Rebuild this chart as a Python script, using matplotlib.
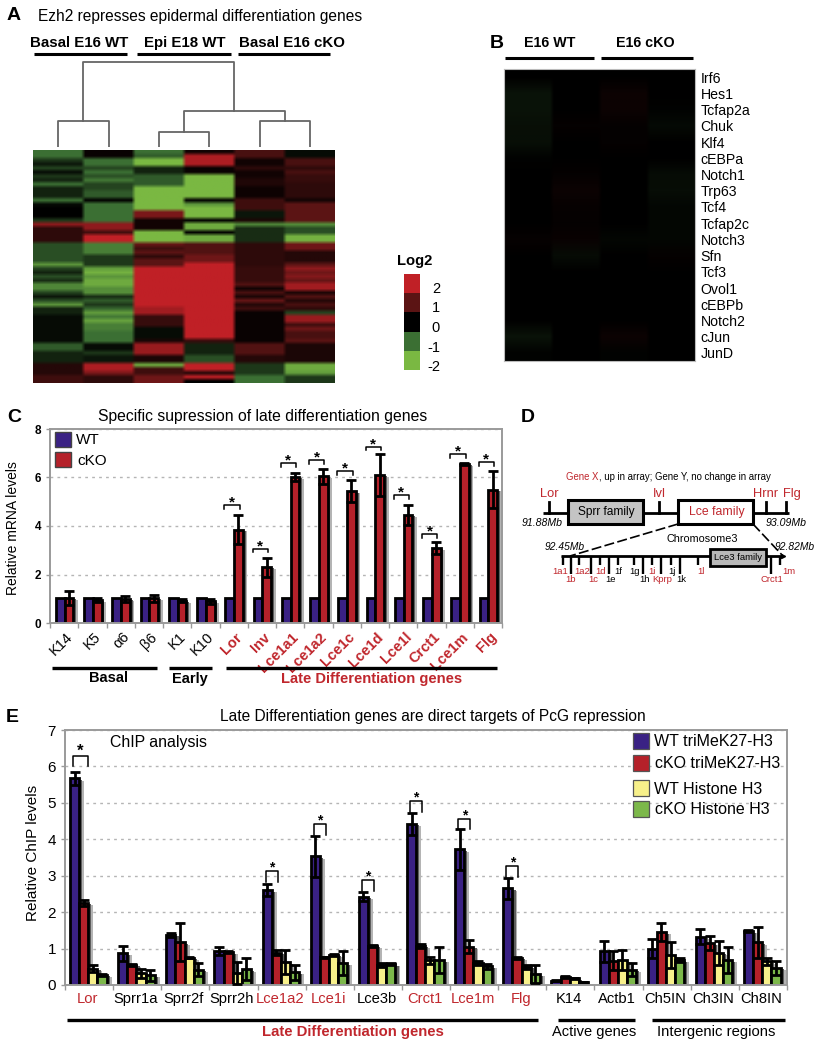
import matplotlib
matplotlib.use("Agg")
import matplotlib.pyplot as plt
import numpy as np
from matplotlib.colors import LinearSegmentedColormap
from matplotlib.patches import Rectangle

plt.rcParams['font.family'] = ['Liberation Sans', 'DejaVu Sans']

W, H = 816, 1050
NAVY, RED, YELLOW, GREEN = "#3a2184", "#b5212a", "#f7f08a", "#7cb84a"
TXTRED = "#c0272d"

# panel A, log2 values per column, (value, number of rows)
a_col1 = [(-1, 2), (-.5, 1), (-.2, 1), (-.6, 1), (-.1, 1), (-.5, 1), (-.3, 1), (-1, 1), (-.3, 3), (-1, 1), (-.1, 1),
          (0, 3), (-.5, 1), (1.5, 1), (.5, 4), (-.7, 5), (-1.5, 1), (-.6, 1), (-.3, 1), (-.7, 1), (-.4, 1), (-1.3, 2),
          (-.6, 1), (-.2, 1), (-.7, 1), (-1.5, 1), (-.3, 2), (-.1, 7), (-.8, 2), (-.3, 3), (.4, 3), (.7, 2)]
a_col2 = [(.1, 2), (-1, 2), (-.6, 1), (-1, 1), (-.7, 1), (-1.1, 1), (-.6, 2), (-.8, 2), (0, 1), (-1, 5), (1.5, 2),
          (.7, 1), (2, 2), (-1.2, 3), (-.5, 3), (-1.6, 1), (-1.9, 1), (-1.5, 1), (-1.8, 2), (-1.4, 2), (-.4, 1),
          (-.8, 1), (-.5, 1), (-.9, 1), (-1.6, 1), (-1.1, 1), (-1.7, 1), (-1.2, 2), (-1, 3), (-.1, 2), (-.5, 1),
          (-.2, 2), (1.8, 2), (1.3, 1), (.5, 2)]
a_col3 = [(-1, 1), (-.8, 1), (-2, 2), (-.3, 2), (-.8, 3), (-2, 6), (1.3, 2), (.2, 3), (-2, 3), (1.1, 1), (.7, 1),
          (1, 1), (.5, 1), (1, 2), (2, 10), (1.7, 2), (.6, 3), (-.1, 3), (.3, 1), (1.6, 3), (.3, 2), (-1.8, 1), (.7, 2),
          (1.2, 2)]
a_col4 = [(.2, 1), (1.8, 3), (.1, 2), (-2, 6), (0, 1), (-1.5, 1), (-2, 3), (0, 1), (-1.8, 2), (0, 1), (-1.8, 2),
          (.9, 3), (1.2, 2), (2, 19), (.6, 1), (-.3, 3), (-.7, 2), (2, 2), (.4, 1), (2, 1), (0, 1)]
a_col5 = [(.8, 2), (.2, 2), (.5, 1), (.2, 2), (.35, 2), (.15, 3), (.7, 3), (-.2, 2), (.3, 1), (-1.3, 1), (-.4, 4),
          (.5, 6), (.6, 4), (.9, 1), (.2, 1), (.8, 1), (.3, 1), (1.1, 1), (.4, 1), (.7, 1), (.1, 8), (.9, 3), (.4, 2),
          (-.5, 3), (-1, 2)]
a_col6 = [(-.1, 2), (.8, 2), (.5, 1), (.8, 1), (.6, 2), (.5, 4), (.2, 1), (1, 5), (-1.4, 1), (-.7, 2), (-1.9, 2),
          (1.2, 2), (.4, 3), (1, 1), (1.5, 1), (1.2, 1), (1.4, 1), (1.1, 1), (1.7, 2), (.3, 1), (.9, 1), (.4, 1),
          (.8, 1), (.5, 1), (-.6, 1), (1.6, 2), (.7, 1), (1.2, 1), (.8, 2), (1, 1), (.3, 5), (-1.8, 2), (-1.6, 1),
          (-.5, 2)]
a_groups = ["Basal E16 WT", "Epi E18 WT", "Basal E16 cKO"]
# dendrogram heights
den_pairs = [26, 15, 26]
den_mid = 36
den_root = 85
log2_levels = [2, 1, 0, -1, -2]

# panel B
b_genes = ["Irf6", "Hes1", "Tcfap2a", "Chuk", "Klf4", "cEBPa", "Notch1", "Trp63", "Tcf4", "Tcfap2c", "Notch3", "Sfn",
           "Tcf3", "Ovol1", "cEBPb", "Notch2", "cJun", "JunD"]
b_col1 = [0, -.17, -.17, -.13, -.13, -.03, 0, 0, 0, 0, .07, 0, 0, 0, 0, 0, -.17, -.03]
b_col2 = [0, 0, 0, .05, 0, 0, .06, .14, .07, .06, .1, -.1, 0, 0, 0, 0, 0, 0]
b_col3 = [0, .14, .14, .06, .06, 0, 0, 0, 0, 0, -.06, 0, 0, 0, 0, 0, .14, -.02]
b_col4 = [0, 0, -.02, -.08, 0, 0, -.1, -.12, -.05, -.05, -.06, .05, 0, 0, 0, 0, 0, 0]

# panel C
c_genes = ["K14", "K5", "α6", "β6", "K1", "K10", "Lor", "Inv", "Lce1a1", "Lce1a2", "Lce1c", "Lce1d", "Lce1l", "Crct1",
           "Lce1m", "Flg"]
c_wt = [1.05] * 16
c_cko = [1.03, .95, 1.0, 1.02, .92, .9, 3.85, 2.3, 6.03, 6.05, 5.43, 6.1, 4.45, 3.1, 6.55, 5.5]
c_err = [.3, .08, .13, .15, .05, .1, .6, .4, .17, .3, .45, .85, .42, .25, .03, .75]
c_sig = [None] * 6 + [4.87, 3.06, 6.58, 6.72, 6.27, 7.27, 5.27, 3.65, 6.95, 6.63]

# panel E
e_genes = ["Lor", "Sprr1a", "Sprr2f", "Sprr2h", "Lce1a2", "Lce1i", "Lce3b", "Crct1", "Lce1m", "Flg", "K14", "Actb1",
           "Ch5IN", "Ch3IN", "Ch8IN"]
e_red = ["Lor", "Lce1a2", "Lce1i", "Crct1", "Lce1m", "Flg"]
e_wt_tri = [5.67, .87, 1.38, .93, 2.6, 3.53, 2.42, 4.42, 3.72, 2.65, .12, .92, 1.0, 1.33, 1.48]
e_wt_tri_err = [.17, .2, .05, .12, .17, .57, .12, .3, .55, .28, .02, .28, .25, .2, .03]
e_cko_tri = [2.25, .55, 1.17, .9, .88, .76, 1.07, 1.07, 1.05, .75, .22, .67, 1.45, 1.15, 1.17]
e_cko_tri_err = [.07, .03, .52, .03, .07, .02, .04, .05, .18, .03, .02, .25, .25, .2, .42]
e_wt_h3 = [.45, .32, .75, .33, .62, .83, .55, .68, .6, .5, .18, .68, .82, .88, .65]
e_wt_h3_err = [.1, .13, .02, .3, .33, .03, .05, .1, .06, .05, .02, .27, .35, .32, .1]
e_cko_h3 = [.28, .27, .42, .43, .35, .6, .57, .68, .52, .3, .08, .42, .68, .68, .47]
e_cko_h3_err = [.03, .15, .18, .3, .2, .33, .03, .35, .07, .25, .01, .18, .05, .35, .2]
e_sig = [6.3, None, None, None, 3.13, 4.43, 2.88, 5.05, 4.57, 3.27, None, None, None, None, None]
e_legend = ["WT triMeK27-H3", "cKO triMeK27-H3", "WT Histone H3", "cKO Histone H3"]

# panel D
d_genes = ["1a1", "1b", "1a2", "1c", "1d", "1e", "1f", "1g", "1h", "1i", "Kprp", "1j", "1k", "1l", "Crct1", "1m"]
d_gene_x = [563, 571, 579, 591, 600, 609, 618, 634, 643, 652, 661, 671, 680, 698, 771, 780]
d_label_x = [560, 571, 582, 593, 601, 611, 618, 635, 645, 652, 662, 672, 681, 701, 772, 789]
d_long = [0, 1, 0, 1, 0, 1, 0, 0, 1, 0, 1, 0, 1, 0, 1, 0]
d_isred = [1, 1, 1, 1, 1, 0, 0, 0, 0, 1, 1, 0, 0, 1, 1, 1]


def runs(col):
    out = []
    for v, n in col:
        out += [v] * n
    return out


fig = plt.figure(figsize=(W / 100, H / 100), dpi=100, facecolor="white")


def px_axes(l, t, r, b):
    return fig.add_axes([l / W, 1 - b / H, (r - l) / W, (b - t) / H])


over = fig.add_axes([0, 0, 1, 1], zorder=10)
over.set_xlim(0, W)
over.set_ylim(H, 0)
over.axis("off")
over.patch.set_alpha(0)


def txt(x, y, s, size=10, color="black", ha="left", weight="normal", style="normal", rot=0):
    over.text(x, y, s, fontsize=size, color=color, ha=ha, va="center", weight=weight, style=style, rotation=rot)


def hline(x0, x1, y, lw=2.0, color="black", **kw):
    over.plot([x0, x1], [y, y], color=color, lw=lw, solid_capstyle="butt", **kw)


cmap = LinearSegmentedColormap.from_list("rg", [(0, "#7ab842"), (.25, "#3c7034"), (.5, "#000000"), (.75, "#5a1414"),
                                                (1, "#c02026")])

# A
for x, y, s in [(7, 16, "A"), (490, 44, "B"), (7, 418, "C"), (521, 418, "D"), (6, 718, "E")]:
    txt(x, y, s, size=14, weight="bold")
txt(38, 16, "Ezh2 represses epidermal differentiation genes", size=11.2)
for x, s in zip([79.5, 185, 292], a_groups):
    txt(x, 43, s, size=10.8, weight="bold", ha="center")
for x0, x1 in [(34, 127), (137, 231), (238, 330)]:
    hline(x0, x1, 53.5, lw=2.2)

axa = px_axes(33, 150, 335, 383)
mat_a = np.array([runs(c) for c in [a_col1, a_col2, a_col3, a_col4, a_col5, a_col6]]).T
# repeat columns so the smoothing only softens the cell edges
axa.imshow(np.repeat(mat_a, 12, axis=1), aspect="auto", cmap=cmap, vmin=-2, vmax=2, interpolation="bilinear",
           interpolation_stage="rgba")
axa.axis("off")

axd = px_axes(33, 62, 335, 147)
axd.set_xlim(0, 6)
axd.set_ylim(0, 85)
axd.axis("off")
mids = []
for i, h in enumerate(den_pairs):
    a, b = 2 * i + .5, 2 * i + 1.5
    axd.plot([a, a, b, b], [0, h, h, 0], color="#666666", lw=1.3)
    mids.append((a + b) / 2)
m = (mids[1] + mids[2]) / 2
axd.plot([mids[1], mids[1], mids[2], mids[2]], [den_pairs[1], den_mid, den_mid, den_pairs[2]], color="#666666", lw=1.3)
axd.plot([mids[0], mids[0], m, m], [den_pairs[0], den_root, den_root, den_mid], color="#666666", lw=1.3, clip_on=False)

# log2 scale
axl = px_axes(404, 274, 420, 370)
axl.imshow(np.array(log2_levels).reshape(-1, 1), aspect="auto", cmap=cmap, vmin=-2, vmax=2, interpolation="nearest")
axl.axis("off")
txt(397, 261, "Log2", size=10.6, weight="bold")
for i, v in enumerate(log2_levels):
    txt(440, 289 + i * 19.5, str(v), size=10.5, ha="right")

# B
for x, s in zip([550, 645], ["E16 WT", "E16 cKO"]):
    txt(x, 43, s, size=10.3, weight="bold", ha="center")
hline(505, 594, 58, lw=2.2)
hline(601, 693, 58, lw=2.2)
axb = px_axes(504, 69, 695, 361)
mat_b = np.array([b_col1, b_col2, b_col3, b_col4]).T
axb.imshow(np.repeat(mat_b, 12, axis=1), aspect="auto", cmap=cmap, vmin=-2, vmax=2, interpolation="bilinear",
           interpolation_stage="rgba", extent=(-.5, 3.5, 17.5, -.5))
axb.set_xticks([])
axb.yaxis.tick_right()
axb.set_yticks(range(len(b_genes)))
axb.set_yticklabels(b_genes, fontsize=10.2)
axb.tick_params(axis="y", length=0, pad=4)
for s in axb.spines.values():
    s.set_color("#bbbbbb")
    s.set_linewidth(.8)


def style_axes(ax, n, ymax, ticks, lab_size):
    ax.set_xlim(0, n)
    ax.set_ylim(0, ymax)
    for s in ax.spines.values():
        s.set_color("#9a9a9a")
        s.set_linewidth(1.4)
    ax.set_xticks(range(n + 1))
    ax.set_xticklabels([])
    ax.tick_params(axis="x", which="major", length=3.5, color="#9a9a9a", width=1)
    ax.set_yticks(ticks)
    ax.tick_params(axis="y", length=3, color="#9a9a9a", width=1, labelsize=lab_size)
    ax.yaxis.grid(True, color="#b5b5b5", lw=1, ls=(0, (2, 3)))
    ax.set_axisbelow(True)


def bars(ax, x, h, err, w, color, shadow_dx, shadow_dy):
    x = np.array(x)
    h = np.array(h)
    ax.bar(x + shadow_dx * 1.6, np.maximum(h - shadow_dy * 1.5, 0), w, color="#b4b4b4", zorder=1.4, lw=0)
    ax.bar(x + shadow_dx, np.maximum(h - shadow_dy, 0), w, color="#5e5e5e", zorder=1.5, lw=0)
    ax.bar(x, h, w, color=color, edgecolor="black", linewidth=2.0, zorder=2)
    if err is not None:
        ax.errorbar(x, h, yerr=err, fmt="none", ecolor="black", elinewidth=2.0, capsize=3.6, capthick=2.0, zorder=3)


# C
axc = px_axes(50, 429, 502, 623)
style_axes(axc, 16, 8, [0, 2, 4, 6, 8], 8.5)
for t in axc.get_yticklabels():
    t.set_fontweight("bold")
xc = np.arange(16)
bars(axc, xc + .36, c_wt, None, .31, NAVY, .1, .05)
bars(axc, xc + .67, c_cko, c_err, .31, RED, .1, .05)
axc.set_xticks(xc + .55, minor=True)
axc.set_xticklabels(c_genes, minor=True, rotation=45, ha="right", rotation_mode="anchor")
axc.tick_params(axis="x", which="minor", length=0, pad=5)
for i, t in enumerate(axc.get_xticklabels(minor=True)):
    t.set_fontsize(10.5)
    if i >= 6:
        t.set_color(TXTRED)
        t.set_fontweight("bold")
for i, y in enumerate(c_sig):
    if y is None:
        continue
    axc.plot([i + .17, i + .17, i + .71, i + .71], [y - .15, y, y, y - .15], color="black", lw=1.1, zorder=4)
    axc.text(i + .44, y - .18, "*", ha="center", va="bottom", fontsize=11, fontweight="bold", zorder=4)
txt(13, 528, "Relative mRNA levels", size=10, ha="center", rot=90)
txt(263, 417, "Specific supression of late differentiation genes", size=11.3, ha="center")
over.add_patch(Rectangle((55, 432), 16, 15, fc=NAVY, ec="#444444", lw=1))
over.add_patch(Rectangle((55, 452), 16, 15, fc=RED, ec="#444444", lw=1))
txt(76, 440, "WT", size=11)
txt(77, 461, "cKO", size=11)
hline(52, 157, 668, lw=2.4)
hline(169, 212, 668, lw=2.4)
hline(226, 497, 668, lw=2.4)
txt(109, 678.5, "Basal", size=10.5, weight="bold", ha="center")
txt(190, 678.5, "Early", size=10.5, weight="bold", ha="center")
txt(372, 678.5, "Late Differentiation genes", size=10.6, weight="bold", ha="center", color=TXTRED)

# D
txt(566, 477, "Gene X", size=6.9, color=TXTRED)
txt(599, 477, ", up in array; Gene Y, no change in array", size=6.9)
hline(543, 789, 513, lw=2)
for x, y0, s, lx in [(549, 502, "Lor", 549), (659, 502, "Ivl", 659), (766, 502, "Hrnr", 766), (786, 502, "Flg", 792)]:
    over.plot([x, x], [y0, 513], color="black", lw=2)
    txt(lx, 494, s, size=9.3, color=TXTRED, ha="center")
over.add_patch(Rectangle((568, 500), 75, 24, fc="#c4c4c4", ec="black", lw=2.2, zorder=3))
over.add_patch(Rectangle((678, 500), 75, 24, fc="white", ec="black", lw=2.2, zorder=3))
over.text(606, 512, "Sprr family", fontsize=8.6, ha="center", va="center", zorder=4)
over.text(717, 512, "Lce family", fontsize=8.8, color=TXTRED, ha="center", va="center", zorder=4)
txt(542, 523, "91.88Mb", size=7.6, style="italic", ha="center")
txt(786, 523, "93.09Mb", size=7.6, style="italic", ha="center")
txt(702, 539, "Chromosome3", size=7.8, ha="center")
txt(565, 547, "92.45Mb", size=7.4, style="italic", ha="center")
txt(795, 547, "92.82Mb", size=7.4, style="italic", ha="center")
over.plot([678, 570], [524, 556], color="black", lw=1.2, ls=(0, (6, 2)))
over.plot([753, 783], [524, 556], color="black", lw=1.2, ls=(0, (6, 2)))
hline(561, 783, 556, lw=2)
over.plot([783], [556], marker=">", color="black", ms=3)
over.add_patch(Rectangle((710, 549), 56, 17, fc="#b8b8b8", ec="black", lw=2, zorder=3))
over.text(738, 558, "Lce3 family", fontsize=6.8, ha="center", va="center", zorder=4)
for s, x, lx, lg, isr in zip(d_genes, d_gene_x, d_label_x, d_long, d_isred):
    over.plot([x, x], [556, 574 if lg else 565], color="black", lw=1.7, solid_capstyle="butt")
    txt(lx, 580 if lg else 571, s, size=6.8, color=TXTRED if isr else "black", ha="center")

# E
axe = px_axes(65, 730, 787, 985)
style_axes(axe, 15, 7, range(8), 11)
xe = np.arange(15)
series = [(e_wt_tri, e_wt_tri_err, NAVY), (e_cko_tri, e_cko_tri_err, RED), (e_wt_h3, e_wt_h3_err, YELLOW),
          (e_cko_h3, e_cko_h3_err, GREEN)]
for i, (v, e, c) in enumerate(series):
    bars(axe, xe + .2 + .19 * i, v, e, .19, c, .065, .04)
axe.set_xticks(xe + .47, minor=True)
axe.set_xticklabels(e_genes, minor=True, fontsize=10.6)
axe.tick_params(axis="x", which="minor", length=0, pad=5)
for t, g in zip(axe.get_xticklabels(minor=True), e_genes):
    if g in e_red:
        t.set_color(TXTRED)
for i, y in enumerate(e_sig):
    if y is None:
        continue
    x1 = .48 if i == 0 else .42
    axe.plot([i + .17, i + .17, i + x1, i + x1], [y - .3, y, y, y - .3], color="black", lw=1.1, zorder=4)
    axe.text(i + (.17 + x1) / 2, y - .1, "*", ha="center", va="bottom", fontsize=10 if i else 12, fontweight="bold",
             zorder=4)
txt(33, 853, "Relative ChIP levels", size=11, ha="center", rot=90)
txt(433, 717, "Late Differentiation genes are direct targets of PcG repression", size=11.2, ha="center")
txt(110, 743, "ChIP analysis", size=11.4)
for y, s, c, tx in zip([733, 755, 780, 801], e_legend, [NAVY, RED, YELLOW, GREEN], [654, 655, 654, 655]):
    over.add_patch(Rectangle((633, y), 16, 16, fc=c, ec="#555555", lw=.9))
    txt(tx, y + 9, s, size=11.5)
hline(67, 538, 1020, lw=2.4)
hline(558, 635, 1020, lw=2.4)
hline(652, 785, 1020, lw=2.4)
txt(353, 1032, "Late Differentiation genes", size=10.7, weight="bold", ha="center", color=TXTRED)
txt(594, 1032, "Active genes", size=10.5, ha="center")
txt(716, 1032, "Intergenic regions", size=10.7, ha="center")

fig.savefig("out.png", dpi=100)
